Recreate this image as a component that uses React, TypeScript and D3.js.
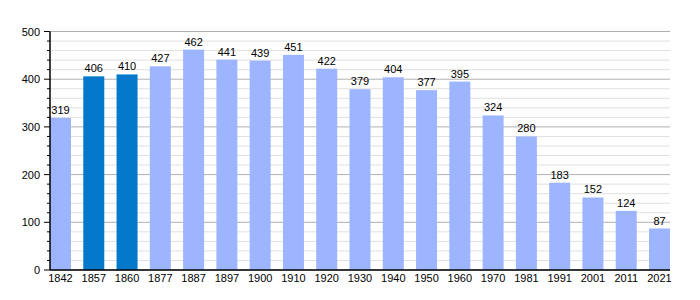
import React from "react";
import * as d3 from "d3";

const years = ["1842","1857","1860","1877","1887","1897","1900","1910","1920","1930","1940","1950","1960","1970","1981","1991","2001","2011","2021"];
const population = [319,406,410,427,462,441,439,451,422,379,404,377,395,324,280,183,152,124,87];
const highlighted = ["1857","1860"];
const majorTicks = [0,100,200,300,400,500];

const W = 700, H = 300;
const left = 50, right = 670, top = 31.5, bottom = 270;

export default function App() {
  const x = d3.scaleBand<string>().domain(years).range([left, right]).paddingInner(0.369).paddingOuter(0);
  const y = d3.scaleLinear().domain([0, 500]).range([bottom, top]);
  const minor = d3.range(0, 501, 20);
  const font = "Liberation Sans, Arial, sans-serif";
  return (
    <svg width={W} height={H} style={{ position: "absolute", left: 0, top: 0 }} fontFamily={font}>
      <rect width={W} height={H} fill="#fff" />
      {minor.map(v => (
        <line key={"m" + v} x1={left} x2={right} y1={y(v)} y2={y(v)} stroke={v % 100 === 0 ? "#b0b0b0" : "#e0e0e0"} strokeWidth={1} />
      ))}
      {years.map((yr, i) => (
        <rect key={yr} x={x(yr)} y={y(population[i])} width={x.bandwidth()} height={bottom - y(population[i])}
          fill={highlighted.includes(yr) ? "#0479cb" : "#9db4ff"} />
      ))}
      {years.map((yr, i) => (
        <text key={"v" + yr} x={(x(yr) as number) + x.bandwidth() / 2} y={y(population[i]) - 4} textAnchor="middle" fontSize={11} fill="#000">{population[i]}</text>
      ))}
      {years.map(yr => (
        <text key={"x" + yr} x={(x(yr) as number) + x.bandwidth() / 2} y={282} textAnchor="middle" fontSize={11} fill="#000">{yr}</text>
      ))}
      {minor.map(v => (
        <line key={"t" + v} x1={v % 100 === 0 ? left - 6 : left - 3} x2={left} y1={y(v)} y2={y(v)} stroke="#000" strokeWidth={1} />
      ))}
      {majorTicks.map(v => (
        <text key={"y" + v} x={left - 10} y={y(v) + 4} textAnchor="end" fontSize={11} fill="#000">{v}</text>
      ))}
      <line x1={left} x2={left} y1={top} y2={bottom} stroke="#000" strokeWidth={1.5} />
      <line x1={left} x2={right} y1={bottom} y2={bottom} stroke="#000" strokeWidth={1.5} />
    </svg>
  );
}
